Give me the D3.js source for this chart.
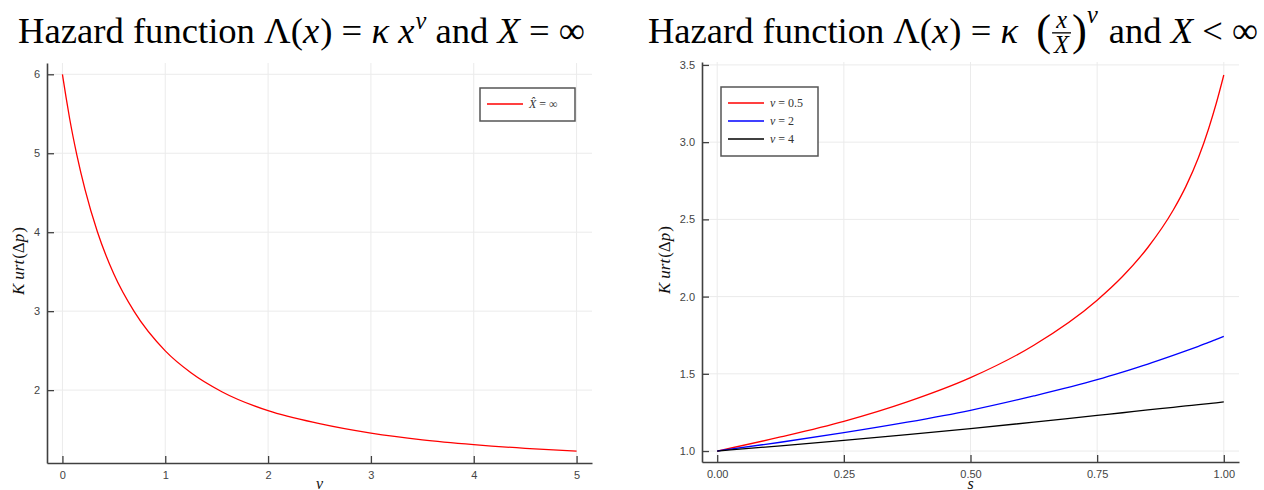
<!DOCTYPE html>
<html>
<head>
<meta charset="utf-8">
<script src="https://cdn.jsdelivr.net/npm/d3@7"></script>
<style>
  html, body { margin: 0; padding: 0; background: #fff; }
  svg { display: block; }
  text { white-space: pre; }
</style>
</head>
<body>
<svg id="chart" width="1264" height="490"></svg>
<script>
// ---------------- DATA ----------------
// Left panel: Kurt(Δp) as a function of ν, X = ∞
const nuValues   = [0, 0.035, 0.07, 0.14, 0.22, 0.34, 0.5, 0.7, 1.0, 1.25, 1.55, 2.0, 2.5, 3.0, 3.5, 4.0, 4.5, 5.0];
const kurtInf    = [6.0, 5.71, 5.44, 4.98, 4.54, 4.005, 3.47, 2.99, 2.497, 2.22, 1.98, 1.739, 1.575, 1.455, 1.37, 1.31, 1.263, 1.228];

// Right panel: Kurt(Δp) as a function of s, X < ∞
const sValues    = [0, 0.125, 0.25, 0.375, 0.5, 0.625, 0.75, 0.8, 0.85, 0.9, 0.925, 0.95, 0.97, 0.985, 1.0];
const kurtNu05   = [1.0, 1.091, 1.192, 1.318, 1.475, 1.685, 1.977, 2.13, 2.318, 2.559, 2.712, 2.90, 3.087, 3.25, 3.435];
const kurtNu2    = [1.0, 1.057, 1.119, 1.187, 1.264, 1.357, 1.462, 1.511, 1.563, 1.619, 1.648, 1.678, 1.703, 1.723, 1.743];
const kurtNu4    = [1.0, 1.034, 1.069, 1.106, 1.145, 1.187, 1.231, 1.248, 1.266, 1.283, 1.292, 1.30, 1.307, 1.3125, 1.318];

const leftXTicks  = [0, 1, 2, 3, 4, 5];
const leftXLabels = ["0", "1", "2", "3", "4", "5"];
const leftYTicks  = [2, 3, 4, 5, 6];
const leftYLabels = ["2", "3", "4", "5", "6"];
const rightXTicks  = [0, 0.25, 0.5, 0.75, 1.0];
const rightXLabels = ["0.00", "0.25", "0.50", "0.75", "1.00"];
const rightYTicks  = [1.0, 1.5, 2.0, 2.5, 3.0, 3.5];
const rightYLabels = ["1.0", "1.5", "2.0", "2.5", "3.0", "3.5"];

const seriesRight = [
  { name: "0.5", values: kurtNu05, color: "#ff0000" },
  { name: "2",   values: kurtNu2,  color: "#0000ff" },
  { name: "4",   values: kurtNu4,  color: "#000000" }
];

// ---------------- SETUP ----------------
const svg = d3.select("#chart");
const SERIF = "'Liberation Serif', 'DejaVu Serif', serif";
const SANS = "'Liberation Sans', Arial, sans-serif";
const AXIS_COLOR = "#404040";
const GRID_COLOR = "#ebebeb";

function drawPanel(cfg) {
  const g = svg.append("g");
  const x = d3.scaleLinear().domain(cfg.xDomain).range(cfg.xRange);
  const y = d3.scaleLinear().domain(cfg.yDomain).range(cfg.yRange);
  const [x0, x1] = cfg.xRange;
  const [yb, yt] = cfg.yRange;

  // grid
  g.append("g").selectAll("line").data(cfg.xTicks).join("line")
    .attr("x1", d => x(d)).attr("x2", d => x(d))
    .attr("y1", yt).attr("y2", yb)
    .attr("stroke", GRID_COLOR).attr("stroke-width", 1);
  g.append("g").selectAll("line").data(cfg.yTicks).join("line")
    .attr("y1", d => y(d)).attr("y2", d => y(d))
    .attr("x1", x0).attr("x2", x1)
    .attr("stroke", GRID_COLOR).attr("stroke-width", 1);

  // axes
  const xAxis = d3.axisBottom(x).tickValues(cfg.xTicks)
    .tickFormat((d, i) => cfg.xLabels[i]).tickSizeInner(-7).tickSizeOuter(0).tickPadding(8);
  const yAxis = d3.axisLeft(y).tickValues(cfg.yTicks)
    .tickFormat((d, i) => cfg.yLabels[i]).tickSizeInner(-7).tickSizeOuter(0).tickPadding(7);

  const gx = g.append("g").attr("transform", `translate(0,${yb})`).call(xAxis);
  const gy = g.append("g").attr("transform", `translate(${x0},0)`).call(yAxis);
  [gx, gy].forEach(a => {
    a.select(".domain").attr("stroke", AXIS_COLOR).attr("stroke-width", 1.6);
    a.selectAll(".tick line").attr("stroke", AXIS_COLOR).attr("stroke-width", 1.3);
    a.selectAll(".tick text").attr("fill", "#444").attr("font-family", SANS).attr("font-size", 11);
  });

  // lines
  const line = d3.line().x((d, i) => x(cfg.xValues[i])).y(d => y(d)).curve(d3.curveMonotoneX);
  cfg.series.forEach(s => {
    g.append("path").datum(s.values)
      .attr("fill", "none").attr("stroke", s.color).attr("stroke-width", 1.3)
      .attr("d", line);
  });

  // y label
  const yl = g.append("text")
    .attr("transform", `translate(${cfg.yLabelX},${(yt + yb) / 2 - 2}) rotate(-90)`)
    .attr("text-anchor", "middle").attr("font-family", SERIF).attr("font-size", 17).attr("fill", "#111");
  yl.append("tspan").attr("font-style", "italic").text("K");
  yl.append("tspan").attr("font-style", "italic").attr("dx", 4).text("urt");
  yl.append("tspan").attr("dx", 1).text("(Δ");
  yl.append("tspan").attr("font-style", "italic").text("p");
  yl.append("tspan").attr("dx", 1).text(")");

  // x label (sits at the very bottom edge)
  g.append("text").attr("x", (x(cfg.xTicks[0]) + x(cfg.xTicks[cfg.xTicks.length - 1])) / 2)
    .attr("y", 489).attr("text-anchor", "middle")
    .attr("font-family", SERIF).attr("font-style", "italic").attr("font-size", 16).attr("fill", "#111")
    .text(cfg.xLabel);

  // legend
  const lg = g.append("g");
  const L = cfg.legend;
  lg.append("rect").attr("x", L.x).attr("y", L.y).attr("width", L.w).attr("height", L.h)
    .attr("fill", "#fff").attr("stroke", "#555").attr("stroke-width", 1.5);
  cfg.series.forEach((s, i) => {
    const yy = L.y + L.first + i * L.step;
    lg.append("line").attr("x1", L.x + 7).attr("x2", L.x + 43).attr("y1", yy).attr("y2", yy)
      .attr("stroke", s.color).attr("stroke-width", 1.3);
    const t = lg.append("text").attr("x", L.x + 49).attr("y", yy + 4)
      .attr("font-family", SERIF).attr("font-size", 12).attr("fill", "#333");
    s.label(t);
  });
  return { x, y };
}

// Left panel
drawPanel({
  xDomain: [-0.15, 5.15], xRange: [47, 592],
  yDomain: [1.077, 6.143], yRange: [463, 63],
  xTicks: leftXTicks, xLabels: leftXLabels,
  yTicks: leftYTicks, yLabels: leftYLabels,
  xValues: nuValues,
  series: [{ values: kurtInf, color: "#ff0000", label: t => {
    t.append("tspan").attr("font-style", "italic").text("X\u0302");
    t.append("tspan").text(" = ∞");
  }}],
  yLabelX: 24, xLabel: "ν",
  legend: { x: 480, y: 88, w: 95, h: 33, first: 16, step: 18 }
});

// Right panel
drawPanel({
  xDomain: [-0.03, 1.03], xRange: [702, 1239],
  yDomain: [0.929, 3.519], yRange: [462, 62],
  xTicks: rightXTicks, xLabels: rightXLabels,
  yTicks: rightYTicks, yLabels: rightYLabels,
  xValues: sValues,
  series: seriesRight.map(s => ({ values: s.values, color: s.color, label: t => {
    t.append("tspan").attr("font-style", "italic").text("ν");
    t.append("tspan").text(" = " + s.name);
  }})),
  yLabelX: 670, xLabel: "s",
  legend: { x: 721, y: 87, w: 97, h: 69, first: 16, step: 18 }
});

// ---------------- TITLES ----------------
function drawTitle(segs, cx, baseline, targetW) {
  const g = svg.append("g").attr("font-family", SERIF).attr("fill", "#000");
  let cur = 0;
  segs.forEach(s => {
    if (s.frac) {
      const fs = 24;
      const num = g.append("text").attr("font-size", fs).attr("font-style", "italic").attr("text-anchor", "middle").text(s.num);
      const den = g.append("text").attr("font-size", fs).attr("font-style", "italic").attr("text-anchor", "middle").text(s.den);
      const w = Math.max(num.node().getComputedTextLength(), den.node().getComputedTextLength()) + 4;
      const c = cur + w / 2 + 1;
      num.attr("x", c).attr("y", -15);
      den.attr("x", c).attr("y", 10);
      g.append("line").attr("x1", cur + 1).attr("x2", cur + w + 1).attr("y1", -10).attr("y2", -10)
        .attr("stroke", "#000").attr("stroke-width", 1.3);
      cur += w + 2;
      return;
    }
    const t = g.append("text").attr("x", cur).attr("y", s.dy || 0)
      .attr("font-size", s.size || 36)
      .attr("font-style", s.it ? "italic" : "normal")
      .text(s.t);
    cur += t.node().getComputedTextLength() + (s.gap || 0);
  });
  const k = targetW / cur;
  g.attr("transform", `translate(${cx - targetW / 2},${baseline}) scale(${k})`);
}

drawTitle([
  { t: "Hazard function Λ(" }, { t: "x", it: true, gap: 1 }, { t: ") = " },
  { t: "κ", it: true }, { t: " " }, { t: "x", it: true, gap: 1 },
  { t: "ν", it: true, size: 24, dy: -14 }, { t: " and " }, { t: "X", it: true }, { t: " = ∞" }
], 301.5, 43, 567);

drawTitle([
  { t: "Hazard function Λ(" }, { t: "x", it: true, gap: 1 }, { t: ") = " },
  { t: "κ", it: true }, { t: "  " },
  { t: "(", size: 44, dy: 2 }, { frac: true, num: "x", den: "X" }, { t: ")", size: 44, dy: 2 },
  { t: "ν", it: true, size: 24, dy: -20, gap: 2 }, { t: " and " }, { t: "X", it: true }, { t: " < ∞" }
], 953, 43, 610);
</script>
</body>
</html>
